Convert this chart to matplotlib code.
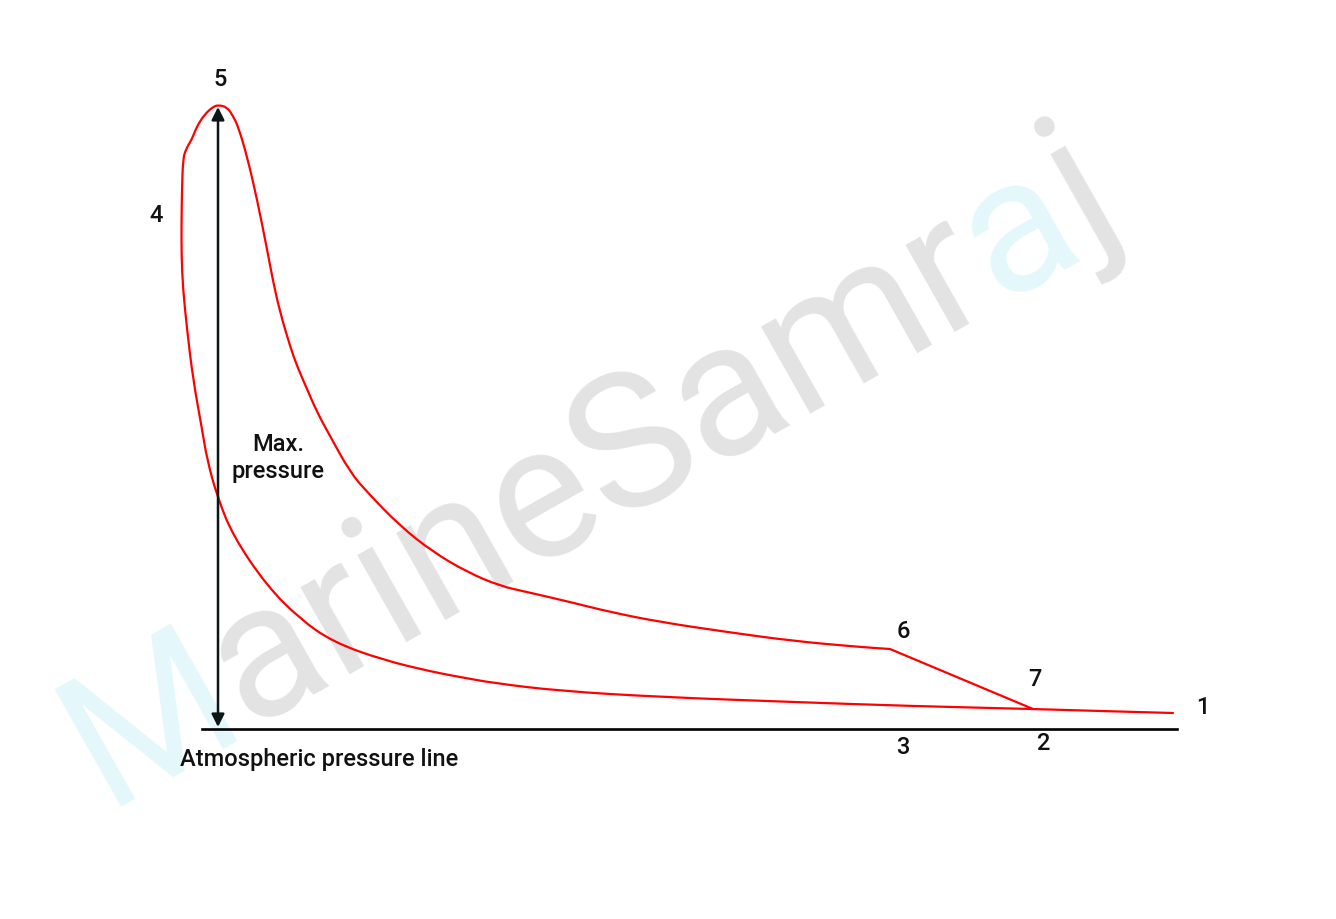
import numpy as np
import matplotlib
matplotlib.use("Agg")
import matplotlib.pyplot as plt
from matplotlib.path import Path
from matplotlib.patches import PathPatch

# Indicator diagram values.
# volume: swept volume from TDC line, pressure: height above atmospheric line
# (both in the drawing's own units)
compression_v = [955, 882, 815, 692, 575, 442, 342, 275, 242, 215, 165, 115, 82, 49,
                 15, -1, -11, -16, -25, -31, -35, -36.5, -36.5, -36, -35, -32, -26, -23,
                 -18, -11, -5, 0]
compression_p = [16, 18, 20, 23, 27, 32, 38, 46, 52, 57, 69, 87, 110, 143,
                 193, 233, 270, 300, 350, 400, 440, 473, 507, 540, 570, 580, 590, 598,
                 608, 617, 622, 624]

expansion_v = [0, 9, 15, 20, 29, 39, 49, 55, 62, 72, 79, 89, 99, 112, 132, 149,
               182, 215, 249, 282, 309, 352, 392, 442, 509, 575, 642, 672]
expansion_p = [624, 622, 613, 603, 573, 530, 480, 448, 417, 383, 363, 340, 317, 293, 257, 237,
               203, 177, 157, 143, 137, 127, 117, 107, 97, 88, 82, 80]

blowdown_v = [672, 815]
blowdown_p = [80, 20]

atm_line_v = [-16, 959]
max_pressure = 622

point_labels = ["1", "2", "3", "4", "5", "6", "7"]
point_pos = [(985, 22), (825, -14), (685, -18), (-62, 514), (2, 650), (685, 98), (817, 50)]

watermark_parts = ["M", "arineSamr", "a", "j"]
watermark_colors = ["#e4f8fc", "#e3e3e3", "#e4f8fc", "#e3e3e3"]

FONT = "Roboto"
TXT = "#111111"
LABEL_SIZE = 17

fig = plt.figure(figsize=(13.36, 9.2), dpi=100)
ax = fig.add_axes([0, 0, 1, 1])
ax.set_xlim(-218, 1336 - 218)
ax.set_ylim(730 - 920, 730)
ax.axis("off")

# watermark, rotated, drawn piece by piece so each piece gets its own colour
renderer = fig.canvas.get_renderer()
wm_size = 136
theta = 29.5
anchor = np.array([-113.0, -77.0])
direction = np.array([np.cos(np.radians(theta)), np.sin(np.radians(theta))])


def ink_width(s):
    t = ax.text(0, 0, s, fontsize=wm_size, family=FONT)
    w = t.get_window_extent(renderer).width
    t.remove()
    return w


prefix = ""
for part, col in zip(watermark_parts, watermark_colors):
    whole = prefix + part
    off = ink_width(whole) - ink_width(part) if prefix else 0.0
    pos = anchor + off * direction
    ax.text(pos[0], pos[1], part, fontsize=wm_size, family=FONT, color=col,
            rotation=theta, rotation_mode="anchor", ha="left", va="baseline", zorder=0)
    prefix = whole


def smooth_path(v, p):
    # quadratic bezier through segment midpoints, read points act as controls
    pts = np.column_stack([v, p]).astype(float)
    mids = (pts[:-1] + pts[1:]) / 2
    verts = [pts[0], mids[0]]
    codes = [Path.MOVETO, Path.LINETO]
    for i in range(1, len(pts) - 1):
        verts += [pts[i], mids[i]]
        codes += [Path.CURVE3, Path.CURVE3]
    verts.append(pts[-1])
    codes.append(Path.LINETO)
    return Path(verts, codes)


# the loop: compression + combustion/expansion, then the blowdown line
loop_v = compression_v + expansion_v[1:]
loop_p = compression_p + expansion_p[1:]
ax.add_patch(PathPatch(smooth_path(loop_v, loop_p), fill=False, edgecolor="#ff0000",
                       lw=1.6, joinstyle="round", capstyle="round", zorder=3))
ax.plot(blowdown_v, blowdown_p, color="#ff0000", lw=1.6, solid_capstyle="round", zorder=3)

# atmospheric pressure line
ax.plot(atm_line_v, [0, 0], color="black", lw=1.9, zorder=2)

# max pressure arrow
ax.annotate("", xy=(0, max_pressure), xytext=(0, 2),
            arrowprops=dict(arrowstyle="<|-|>", color="#0d1516", lw=1.8,
                            mutation_scale=19, shrinkA=0, shrinkB=0), zorder=4)

for lab, (v, p) in zip(point_labels, point_pos):
    ax.text(v, p, lab, fontsize=LABEL_SIZE, family=FONT, fontweight="medium", color=TXT,
            ha="center", va="center")

ax.text(60, 272, "Max.\npressure", fontsize=LABEL_SIZE, family=FONT, fontweight="medium",
        color=TXT, ha="center", va="center", multialignment="center", linespacing=1.2)
ax.text(-38, -30, "Atmospheric pressure line", fontsize=LABEL_SIZE, family=FONT,
        fontweight="medium", color=TXT, ha="left", va="center")

fig.savefig("out.png", dpi=100)
